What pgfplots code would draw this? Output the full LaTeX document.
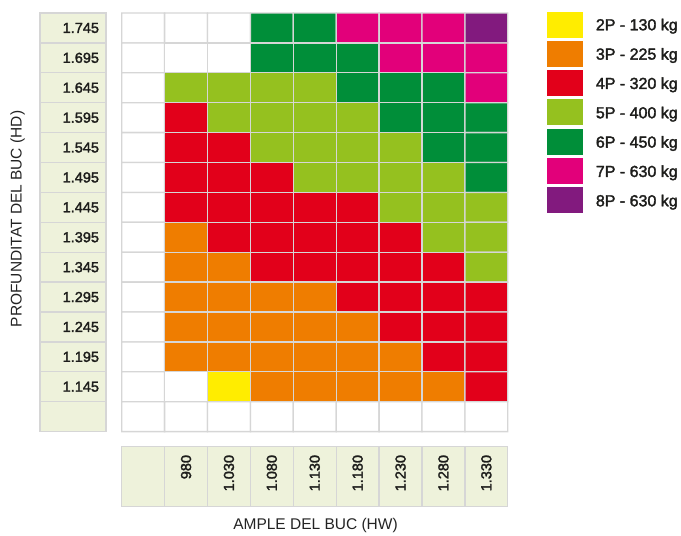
\documentclass[border=0pt]{standalone}
\usepackage{pgfplots}
\pgfplotsset{compat=1.18}
\usepackage{pgfplotstable}
\usepackage{fontspec}
\setmainfont{Liberation Sans}
\newfontfamily\medfont{Liberation Sans}[FakeBold=2.0]
\definecolor{gridgray}{RGB}{214,214,214}
\definecolor{labelbg}{RGB}{238,242,219}
\definecolor{txt}{RGB}{29,29,27}
\definecolor{titletxt}{RGB}{35,35,35}

% cell codes: 0 empty, 1 2P, 2 3P, 3 4P, 4 5P, 5 6P, 6 7P, 7 8P
% i = column (0 blank, 1=980 ... 8=1.330), j = row (0=1.745 ... 12=1.145, 13 blank)
\pgfplotstableread{
i j c
0 0 0
1 0 0
2 0 0
3 0 5
4 0 5
5 0 6
6 0 6
7 0 6
8 0 7
0 1 0
1 1 0
2 1 0
3 1 5
4 1 5
5 1 5
6 1 6
7 1 6
8 1 6
0 2 0
1 2 4
2 2 4
3 2 4
4 2 4
5 2 5
6 2 5
7 2 5
8 2 6
0 3 0
1 3 3
2 3 4
3 3 4
4 3 4
5 3 4
6 3 5
7 3 5
8 3 5
0 4 0
1 4 3
2 4 3
3 4 4
4 4 4
5 4 4
6 4 4
7 4 5
8 4 5
0 5 0
1 5 3
2 5 3
3 5 3
4 5 4
5 5 4
6 5 4
7 5 4
8 5 5
0 6 0
1 6 3
2 6 3
3 6 3
4 6 3
5 6 3
6 6 4
7 6 4
8 6 4
0 7 0
1 7 2
2 7 3
3 7 3
4 7 3
5 7 3
6 7 3
7 7 4
8 7 4
0 8 0
1 8 2
2 8 2
3 8 3
4 8 3
5 8 3
6 8 3
7 8 3
8 8 4
0 9 0
1 9 2
2 9 2
3 9 2
4 9 2
5 9 3
6 9 3
7 9 3
8 9 3
0 10 0
1 10 2
2 10 2
3 10 2
4 10 2
5 10 2
6 10 3
7 10 3
8 10 3
0 11 0
1 11 2
2 11 2
3 11 2
4 11 2
5 11 2
6 11 2
7 11 3
8 11 3
0 12 0
1 12 0
2 12 1
3 12 2
4 12 2
5 12 2
6 12 2
7 12 2
8 12 3
0 13 0
1 13 0
2 13 0
3 13 0
4 13 0
5 13 0
6 13 0
7 13 0
8 13 0
}\cells

\pgfplotstableread{
j lab
0 1.745
1 1.695
2 1.645
3 1.595
4 1.545
5 1.495
6 1.445
7 1.395
8 1.345
9 1.295
10 1.245
11 1.195
12 1.145
13 {}
}\rowlabels

\pgfplotstableread{
i lab
0 {}
1 980
2 1.030
3 1.080
4 1.130
5 1.180
6 1.230
7 1.280
8 1.330
}\collabels

\pgfplotstableread{
k c lab
0 1 {2P - 130 kg}
1 2 {3P - 225 kg}
2 3 {4P - 320 kg}
3 4 {5P - 400 kg}
4 5 {6P - 450 kg}
5 6 {7P - 630 kg}
6 7 {8P - 630 kg}
}\legendtab

\pgfdeclareplotmark{swatch}{%
  \pgfpathrectangle{\pgfpoint{-18.35pt}{-13pt}}{\pgfpoint{36.7pt}{26pt}}%
  \pgfusepathqfill}

\begin{document}
\begin{tikzpicture}
\path[use as bounding box] (0,0) rectangle (681pt,536pt);
\begin{axis}[
  at={(0,0)}, anchor=south west,
  width=681pt, height=536pt, scale only axis,
  xmin=0, xmax=681, ymin=0, ymax=536, y dir=reverse,
  axis lines=none, clip=false,
  colormap={cat}{rgb255=(255,255,255) rgb255=(255,237,0) rgb255=(239,125,0)
    rgb255=(226,0,26) rgb255=(149,193,31) rgb255=(0,142,57)
    rgb255=(226,0,122) rgb255=(130,26,126)},
  colormap access=piecewise constant,
  point meta min=0, point meta max=8,
]
% main grid
\addplot[matrix plot*, mesh/cols=9, mesh/rows=14, point meta=explicit,
  draw=gridgray, line width=1.3pt]
  table[x expr={143.15+42.9*\thisrow{i}}, y expr={27.95+29.9*\thisrow{j}}, meta expr={\thisrow{c}+0.5}] {\cells};

% row labels
\addplot[draw=none, mark=none, point meta=explicit symbolic, nodes near coords,
  every node near coord/.append style={anchor=center, fill=labelbg, draw=gridgray,
    line width=1.3pt, minimum height=29.9pt, text width=52pt, align=right,
    inner xsep=7pt, inner ysep=0pt, font=\medfont\fontsize{14.5}{17}\selectfont, text=txt}]
  table[x expr=73, y expr={27.95+29.9*\thisrow{j}}, meta=lab] {\rowlabels};

% column labels
\addplot[draw=none, mark=none, point meta=explicit symbolic, nodes near coords,
  every node near coord/.append style={anchor=center, rotate=90, fill=labelbg, draw=gridgray,
    line width=1.3pt, minimum height=42.9pt, text width=43.4pt, align=right,
    inner xsep=8.3pt, inner ysep=0pt, font=\medfont\fontsize{14.5}{17}\selectfont, text=txt}]
  table[x expr={143.15+42.9*\thisrow{i}}, y expr=476.7, meta=lab] {\collabels};

% legend swatches
\addplot[scatter, only marks, mark=swatch, point meta=explicit,
  scatter/use mapped color={fill=mapped color, draw=mapped color}]
  table[x expr=565, y expr={24.5+29.33*\thisrow{k}}, meta expr={\thisrow{c}+0.5}] {\legendtab};

% legend labels
\addplot[draw=none, mark=none, point meta=explicit symbolic, nodes near coords,
  every node near coord/.append style={anchor=base west, yshift=-5.8pt, inner sep=0pt,
    font=\medfont\fontsize{16}{19}\selectfont, text=txt}]
  table[x expr=595.7, y expr={24.5+29.33*\thisrow{k}}, meta=lab] {\legendtab};

\node[font=\fontsize{15.5}{18}\selectfont, text=titletxt, anchor=center]
  at (axis cs:315.5,525) {AMPLE DEL BUC (HW)};
\node[font=\fontsize{15.5}{18}\selectfont, text=titletxt, anchor=center, rotate=90]
  at (axis cs:17.5,219) {PROFUNDITAT DEL BUC (HD)};
\end{axis}
\end{tikzpicture}
\end{document}
